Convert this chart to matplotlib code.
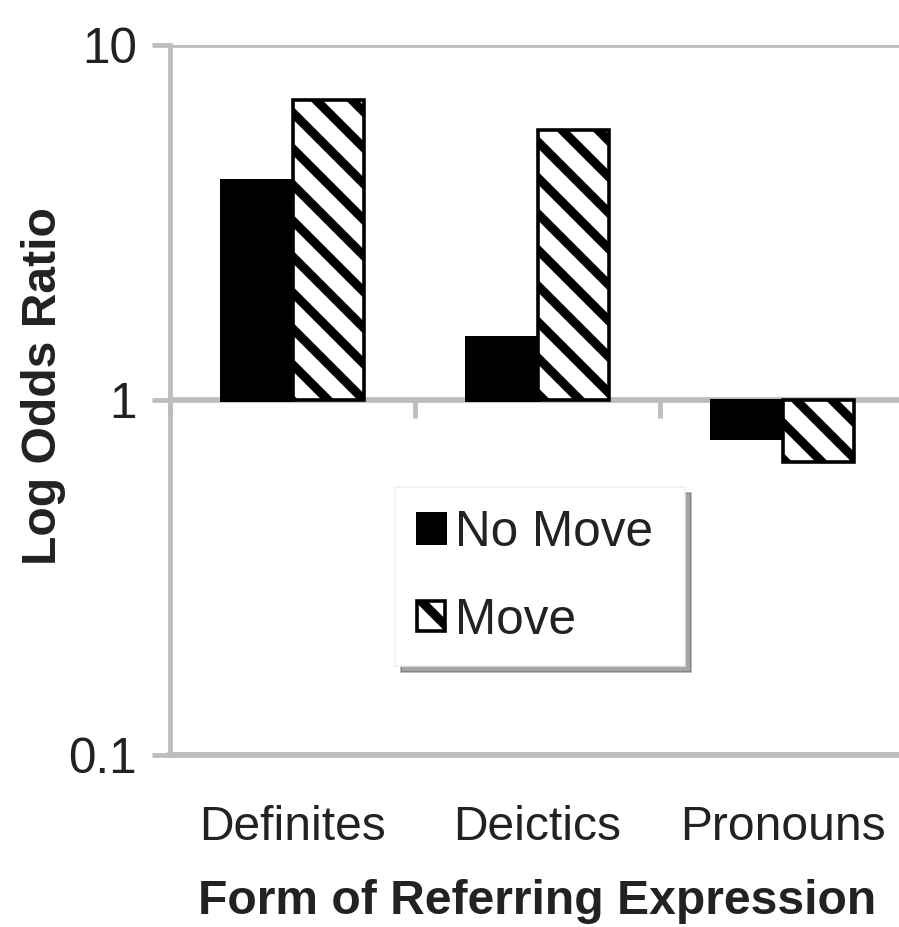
import matplotlib
matplotlib.use("Agg")
import matplotlib.pyplot as plt
import numpy as np

categories = ["Definites", "Deictics", "Pronouns"]
series_names = ["No Move", "Move"]
no_move = [4.17, 1.50, 0.78]
move = [7.0, 5.76, 0.67]
ytick_values = [0.1, 1, 10]
ytick_labels = ["0.1", "1", "10"]

DPI = 216
plt.rcParams['font.family'] = ['Liberation Sans', 'DejaVu Sans']
plt.rcParams['hatch.linewidth'] = 3.0
plt.rcParams['hatch.color'] = 'black'

fig = plt.figure(figsize=(899 / DPI, 927 / DPI), dpi=DPI)
ax = fig.add_axes([170 / 899, 1 - 755 / 927, 735 / 899, 710 / 927])

grey = '#bdbdbd'
x = np.arange(len(categories))
w = 0.29
base = 1.0
b1 = ax.bar(x - w / 2, np.array(no_move) - base, bottom=base, width=w,
            color='black', edgecolor='black', linewidth=1.0, label=series_names[0], zorder=3)
b2 = ax.bar(x + w / 2, np.array(move) - base, bottom=base, width=w,
            color='white', edgecolor='black', linewidth=1.2, hatch='\\\\',
            label=series_names[1], zorder=3)

ax.set_yscale('log')
ax.set_ylim(0.1, 10)
ax.set_xlim(-0.5, len(categories) - 0.5)
ax.set_yticks(ytick_values)
ax.set_yticklabels(ytick_labels)
ax.yaxis.set_minor_locator(matplotlib.ticker.NullLocator())
ax.set_xticks(x)
ax.set_xticklabels(categories)

ax.tick_params(axis='x', length=0, pad=16.7, labelsize=16, labelcolor='#222222')
ax.tick_params(axis='y', length=6, width=1.6, color=grey, pad=5, labelsize=16.5,
               labelcolor='#222222')

ax.grid(axis='y', which='major', color=grey, linewidth=1.9, zorder=1)
ax.set_axisbelow(True)
for s in ['top', 'right']:
    ax.spines[s].set_visible(False)
ax.spines['left'].set_color(grey)
ax.spines['left'].set_linewidth(1.6)
ax.spines['bottom'].set_color(grey)
ax.spines['bottom'].set_linewidth(1.9)

# category boundary ticks on the axis line that crosses at 1
sec = ax.secondary_xaxis(0.5)
sec.set_xticks(np.arange(len(categories) + 1) - 0.5)
sec.set_xticklabels([])
sec.tick_params(axis='x', length=6, width=1.6, color=grey, direction='in')
sec.spines['bottom'].set_visible(False)

ax.set_xlabel("Form of Referring Expression", fontsize=16, fontweight='bold', color='#222222')
ax.xaxis.set_label_coords(0.5, -0.175)
ax.set_ylabel("Log Odds Ratio", fontsize=16, fontweight='bold', color='#222222')
ax.yaxis.set_label_coords(-0.142, 0.52)

lx0, lx1 = 0.306, 0.70
ltop = 0.377
leg = ax.legend(handles=[b1, b2], loc='upper left',
                bbox_to_anchor=(lx0, ltop - 0.25, lx1 - lx0, 0.25), mode='expand',
                fontsize=16.5, handlelength=0.57, handleheight=0.57, handletextpad=0.2,
                labelspacing=0.85, borderpad=0.45, fancybox=False, shadow=True,
                frameon=True, framealpha=1, borderaxespad=0)
leg.get_frame().set_edgecolor('#eeeeee')
leg.get_frame().set_linewidth(0.5)
for t in leg.get_texts():
    t.set_color('#222222')

fig.savefig("out.png", dpi=DPI, facecolor='white')
